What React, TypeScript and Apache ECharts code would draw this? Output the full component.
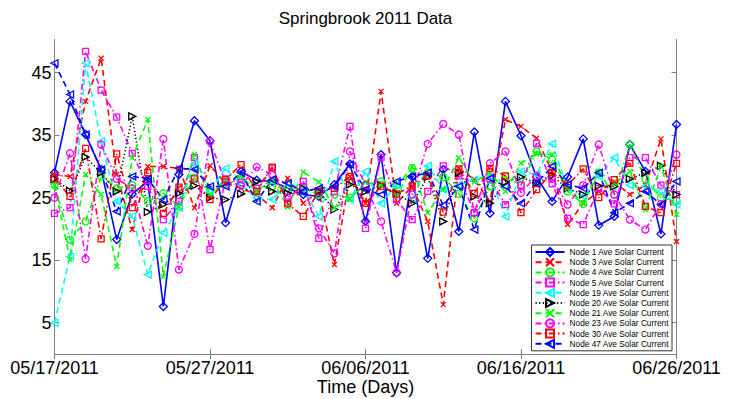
import React, { useEffect, useRef } from 'react';
import * as echarts from 'echarts';

const categories = [
  '05/17/2011', '05/18/2011', '05/19/2011', '05/20/2011', '05/21/2011', '05/22/2011', '05/23/2011',
  '05/24/2011', '05/25/2011', '05/26/2011', '05/27/2011', '05/28/2011', '05/29/2011', '05/30/2011',
  '05/31/2011', '06/01/2011', '06/02/2011', '06/03/2011', '06/04/2011', '06/05/2011', '06/06/2011',
  '06/07/2011', '06/08/2011', '06/09/2011', '06/10/2011', '06/11/2011', '06/12/2011', '06/13/2011',
  '06/14/2011', '06/15/2011', '06/16/2011', '06/17/2011', '06/18/2011', '06/19/2011', '06/20/2011',
  '06/21/2011', '06/22/2011', '06/23/2011', '06/24/2011', '06/25/2011', '06/26/2011',
];

const node1 = [29, 40.4, 35.1, 29.5, 18.3, 25.6, 27.6, 7.6, 28.7, 37.3, 34.1, 21.0, 29.2, 27.8, 27.6, 26.5, 25.5, 25.2, 27.1, 30.4, 21.2, 31.9, 13.0, 28.4, 15.3, 29.5, 19.6, 35.5, 22.5, 40.4, 34.9, 28.3, 24.4, 28.3, 34.4, 20.6, 22.0, 33.5, 29.2, 19.2, 36.7];
const node3 = [28.7, 28.4, 40.4, 47.3, 28.7, 19.9, 30.0, 30.0, 29.7, 23.4, 30.1, 27.3, 26.5, 25.5, 23.4, 28.1, 24.1, 26.0, 14.3, 28.4, 24.1, 42.0, 24.1, 26.8, 21.2, 7.9, 29.7, 27.9, 24.4, 37.5, 36.4, 34.5, 29.2, 20.7, 24.1, 26.0, 27.5, 25.5, 27.0, 34.4, 18.0];
const node4 = [27.0, 18.3, 21.2, 28.4, 26.5, 27.0, 24.4, 25.7, 23.6, 28.2, 26.0, 27.1, 28.1, 26.5, 26.8, 26.5, 26.5, 25.5, 25.5, 25.0, 27.1, 27.6, 27.0, 29.7, 29.0, 28.3, 25.6, 21.7, 26.8, 28.4, 27.0, 32.4, 31.1, 26.0, 24.0, 29.0, 25.5, 33.5, 28.0, 25.0, 24.5];
const node5 = [22.5, 23.4, 48.4, 42.2, 37.9, 32.1, 26.8, 21.5, 24.4, 31.4, 16.7, 28.0, 27.4, 26.5, 29.7, 24.3, 27.6, 18.5, 26.0, 36.4, 20.1, 31.5, 24.7, 21.5, 26.0, 30.1, 28.5, 22.6, 28.0, 23.9, 27.0, 33.7, 27.2, 21.7, 20.7, 26.5, 24.0, 31.4, 31.4, 27.0, 25.5];
const node19 = [5.0, 15.6, 46.5, 34.0, 24.4, 22.0, 12.7, 19.4, 23.4, 30.5, 26.0, 29.7, 27.0, 25.0, 24.7, 27.3, 26.5, 22.0, 30.8, 24.7, 29.2, 24.1, 27.0, 24.7, 30.1, 26.3, 27.0, 27.9, 28.4, 22.0, 29.2, 28.7, 33.6, 26.5, 25.2, 28.4, 31.4, 27.0, 26.8, 26.0, 23.9];
const node20 = [28.0, 26.1, 31.5, 29.0, 26.0, 38.0, 22.7, 23.9, 25.7, 26.9, 25.0, 24.7, 25.6, 27.6, 26.0, 25.7, 26.5, 26.0, 23.1, 27.1, 26.0, 27.0, 25.7, 24.1, 28.3, 21.2, 29.0, 25.2, 24.1, 27.5, 28.3, 27.3, 28.5, 26.5, 25.5, 26.9, 26.8, 28.0, 29.0, 30.1, 25.5];
const node21 = [27.0, 15.1, 28.7, 25.5, 14.0, 31.4, 37.5, 12.4, 23.5, 31.9, 25.5, 28.0, 28.4, 26.0, 28.0, 23.5, 29.1, 27.5, 23.4, 24.8, 27.5, 27.0, 25.3, 29.9, 22.6, 26.3, 31.4, 27.5, 29.0, 26.0, 30.5, 32.0, 31.9, 26.5, 24.1, 29.2, 27.3, 29.2, 23.1, 30.0, 22.3];
const node23 = [25.0, 32.1, 15.2, 33.5, 28.0, 26.5, 17.3, 34.4, 13.5, 19.2, 34.0, 27.5, 27.0, 29.9, 28.7, 25.0, 26.8, 20.1, 16.1, 32.4, 27.0, 21.2, 13.0, 25.5, 33.6, 36.8, 35.1, 22.6, 30.5, 32.4, 25.8, 28.5, 28.0, 23.9, 27.0, 33.5, 25.5, 21.5, 19.9, 24.0, 31.9];
const node30 = [28.0, 25.2, 32.9, 18.4, 32.0, 23.4, 29.0, 22.5, 26.7, 28.0, 24.7, 27.9, 30.3, 26.0, 29.9, 24.0, 22.0, 26.0, 26.5, 28.4, 24.1, 26.8, 25.6, 26.9, 28.5, 22.7, 29.6, 25.7, 29.7, 28.5, 22.6, 26.3, 29.0, 27.0, 29.6, 25.0, 27.9, 30.5, 23.6, 22.6, 30.5];
const node47 = [46.5, 41.5, 35.1, 29.5, 22.8, 28.4, 28.0, 24.7, 29.7, 29.5, 26.8, 26.8, 29.0, 24.4, 27.9, 27.3, 26.0, 26.5, 26.8, 30.3, 26.3, 25.5, 27.6, 28.4, 29.0, 23.8, 26.8, 19.9, 28.1, 26.8, 24.1, 27.3, 30.0, 27.1, 26.5, 29.0, 22.6, 24.1, 26.0, 23.9, 27.6];

const yTicks = [5, 15, 25, 35, 45];
const yMin = 0;
const yMax = 50.3;

const SYM_X = 'path://M0,0L10,10M10,0L0,10';
const SYM_LEFT = 'path://M0,5L10,0L10,10Z';
const SYM_RIGHT = 'path://M10,5L0,0L0,10Z';
const SYM_DIAMOND = 'path://M5,0L10,5L5,10L0,5Z';

const DASHED = [6, 4];
const DASHDOT = [6, 3, 1.5, 3];
const DOTTED = [1.2, 2.4];

const seriesDefs = [
  { name: 'Node 1 Ave Solar Current', data: node1, color: '#0000ff', line: 'solid', symbol: SYM_DIAMOND, size: 8 },
  { name: 'Node 3 Ave Solar Current', data: node3, color: '#ff0000', line: DASHED, symbol: SYM_X, size: 5 },
  { name: 'Node 4 Ave Solar Current', data: node4, color: '#00ff00', line: DASHDOT, symbol: 'circle', size: 7 },
  { name: 'Node 5 Ave Solar Current', data: node5, color: '#ff00ff', line: DASHDOT, symbol: 'rect', size: 6 },
  { name: 'Node 19 Ave Solar Current', data: node19, color: '#00ffff', line: DASHED, symbol: SYM_LEFT, size: 7 },
  { name: 'Node 20 Ave Solar Current', data: node20, color: '#000000', line: DOTTED, symbol: SYM_RIGHT, size: 7 },
  { name: 'Node 21 Ave Solar Current', data: node21, color: '#00ff00', line: DASHED, symbol: SYM_X, size: 5 },
  { name: 'Node 23 Ave Solar Current', data: node23, color: '#ff00ff', line: DASHDOT, symbol: 'circle', size: 7 },
  { name: 'Node 30 Ave Solar Current', data: node30, color: '#ff0000', line: DASHDOT, symbol: 'rect', size: 6 },
  { name: 'Node 47 Ave Solar Current', data: node47, color: '#0000ff', line: DASHED, symbol: SYM_LEFT, size: 7 },
];

const FONT = "'Liberation Sans', Arial, Helvetica, sans-serif";
const FRAME = '#808080';

export default function App() {
  const ref = useRef<HTMLDivElement>(null);
  useEffect(() => {
    if (!ref.current) return;
    const chart = echarts.init(ref.current, null, { renderer: 'svg' });
    const option: any = {
      animation: false,
      backgroundColor: '#ffffff',
      textStyle: { fontFamily: FONT },
      title: {
        text: 'Springbrook 2011 Data',
        left: 'center',
        top: 10,
        padding: 0,
        textStyle: { fontFamily: FONT, fontSize: 17, fontWeight: 'normal', color: '#000' },
      },
      grid: { left: 54.5, right: 54.5, top: 39.5, bottom: 45, containLabel: false, outerBoundsMode: 'none' },
      legend: {
        orient: 'vertical',
        right: 59,
        top: 245,
        padding: [2, 3, 2, 3],
        itemGap: 0.2,
        itemWidth: 29,
        itemHeight: 10,
        backgroundColor: '#ffffff',
        borderColor: '#333333',
        borderWidth: 1,
        borderRadius: 0,
        textStyle: { fontFamily: FONT, fontSize: 8.3, color: '#000', lineHeight: 10 },
        data: seriesDefs.map((s) => s.name),
      },
      xAxis: [
        {
          type: 'category',
          data: categories,
          boundaryGap: false,
          position: 'bottom',
          name: 'Time (Days)',
          nameLocation: 'middle',
          nameGap: 24,
          nameMoveOverlap: false,
          nameTextStyle: { fontFamily: FONT, fontSize: 18, lineHeight: 18, color: '#000', verticalAlign: 'top' },
          axisLine: { show: true, lineStyle: { color: FRAME, width: 1 } },
          axisTick: { show: true, inside: true, length: 5, interval: 9, lineStyle: { color: FRAME } },
          axisLabel: { show: true, interval: 9, margin: 5, fontFamily: FONT, fontSize: 18, lineHeight: 18, color: '#000' },
          splitLine: { show: false },
        },
        {
          type: 'category',
          data: categories,
          boundaryGap: false,
          position: 'top',
          axisLine: { show: true, lineStyle: { color: FRAME, width: 1 } },
          axisTick: { show: true, inside: true, length: 5, interval: 9, lineStyle: { color: FRAME } },
          axisLabel: { show: false },
          splitLine: { show: false },
        },
      ],
      yAxis: [
        {
          type: 'value',
          min: yMin,
          max: yMax,
          position: 'left',
          axisLine: { show: true, lineStyle: { color: FRAME, width: 1 } },
          axisTick: { show: true, inside: true, length: 5, customValues: yTicks, lineStyle: { color: FRAME } },
          axisLabel: { show: true, margin: 3, customValues: yTicks, fontFamily: FONT, fontSize: 18, color: '#000' },
          splitLine: { show: false },
        },
        {
          type: 'value',
          min: yMin,
          max: yMax,
          position: 'right',
          axisLine: { show: true, lineStyle: { color: FRAME, width: 1 } },
          axisTick: { show: true, inside: true, length: 5, customValues: yTicks, lineStyle: { color: FRAME } },
          axisLabel: { show: false },
          splitLine: { show: false },
        },
      ],
      series: seriesDefs.map((s) => ({
        name: s.name,
        type: 'line',
        xAxisIndex: 0,
        yAxisIndex: 0,
        data: s.data,
        symbol: s.symbol,
        symbolSize: s.size,
        showSymbol: true,
        showAllSymbol: true,
        clip: false,
        lineStyle: { color: s.color, width: 1.6, type: s.line },
        itemStyle: { color: 'rgba(255,255,255,0)', borderColor: s.color, borderWidth: 1.3 },
        emphasis: { disabled: true },
      })),
    };
    chart.setOption(option);
    return () => chart.dispose();
  }, []);
  return (
    <div
      ref={ref}
      style={{ position: 'fixed', left: 0, top: 0, width: 731, height: 399 }}
    />
  );
}
